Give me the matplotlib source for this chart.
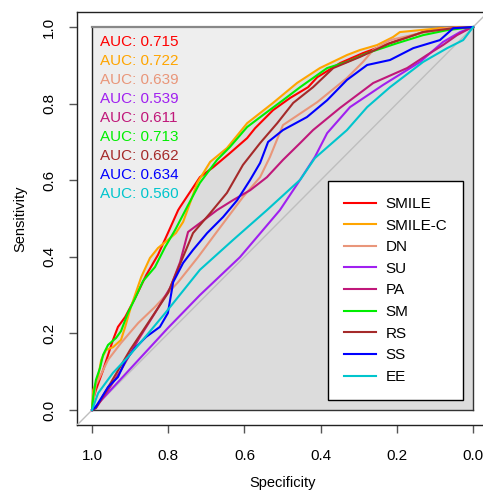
import matplotlib
matplotlib.use("Agg")
import matplotlib.pyplot as plt
import numpy as np

plt.rcParams['font.family'] = ['Liberation Sans', 'DejaVu Sans']

# ROC curves: (specificity, sensitivity)
smile_spec = [1.0, 0.997, 0.990, 0.971, 0.945, 0.932, 0.913, 0.887, 0.858, 0.827, 0.801, 0.774, 0.769, 0.717, 0.682, 0.638, 0.593, 0.572, 0.525, 0.480, 0.433, 0.409, 0.349, 0.289, 0.218, 0.131, 0.087, 0.0]
smile_sens = [0.0, 0.026, 0.052, 0.104, 0.183, 0.217, 0.243, 0.292, 0.352, 0.405, 0.462, 0.522, 0.530, 0.608, 0.634, 0.671, 0.710, 0.736, 0.783, 0.815, 0.843, 0.869, 0.906, 0.932, 0.958, 0.987, 0.997, 1.0]

smilec_spec = [1.0, 0.997, 0.984, 0.976, 0.963, 0.945, 0.924, 0.913, 0.898, 0.871, 0.848, 0.827, 0.795, 0.780, 0.761, 0.740, 0.724, 0.690, 0.646, 0.593, 0.525, 0.462, 0.402, 0.331, 0.297, 0.252, 0.210, 0.192, 0.087, 0.0]
smilec_sens = [0.0, 0.052, 0.086, 0.131, 0.157, 0.164, 0.183, 0.217, 0.269, 0.347, 0.397, 0.423, 0.449, 0.462, 0.491, 0.548, 0.593, 0.648, 0.684, 0.749, 0.802, 0.854, 0.893, 0.927, 0.940, 0.953, 0.974, 0.987, 0.997, 1.0]

dn_spec = [1.0, 0.990, 0.958, 0.924, 0.879, 0.835, 0.774, 0.722, 0.669, 0.604, 0.559, 0.533, 0.499, 0.472, 0.409, 0.331, 0.289, 0.262, 0.218, 0.139, 0.068, 0.0]
dn_sens = [0.0, 0.065, 0.131, 0.175, 0.227, 0.269, 0.334, 0.399, 0.470, 0.556, 0.608, 0.661, 0.744, 0.762, 0.804, 0.867, 0.909, 0.940, 0.966, 0.984, 0.997, 1.0]

su_spec = [1.0, 0.992, 0.801, 0.717, 0.612, 0.507, 0.454, 0.415, 0.383, 0.323, 0.236, 0.139, 0.079, 0.034, 0.0]
su_sens = [0.0, 0.008, 0.214, 0.300, 0.399, 0.522, 0.601, 0.661, 0.723, 0.791, 0.849, 0.909, 0.961, 0.987, 1.0]

pa_spec = [1.0, 0.990, 0.958, 0.924, 0.879, 0.835, 0.795, 0.769, 0.748, 0.717, 0.672, 0.630, 0.585, 0.541, 0.499, 0.454, 0.420, 0.349, 0.262, 0.173, 0.121, 0.079, 0.042, 0.008, 0.0]
pa_sens = [0.0, 0.005, 0.052, 0.104, 0.183, 0.253, 0.319, 0.386, 0.465, 0.488, 0.522, 0.548, 0.574, 0.608, 0.653, 0.697, 0.731, 0.789, 0.854, 0.893, 0.927, 0.953, 0.979, 0.997, 1.0]

sm_spec = [1.0, 0.997, 0.990, 0.979, 0.971, 0.958, 0.937, 0.924, 0.906, 0.887, 0.866, 0.835, 0.808, 0.782, 0.748, 0.717, 0.672, 0.638, 0.593, 0.541, 0.499, 0.454, 0.383, 0.331, 0.278, 0.199, 0.131, 0.068, 0.0]
sm_sens = [0.0, 0.034, 0.078, 0.110, 0.144, 0.170, 0.188, 0.206, 0.253, 0.292, 0.337, 0.373, 0.426, 0.470, 0.535, 0.593, 0.653, 0.687, 0.739, 0.778, 0.809, 0.843, 0.893, 0.909, 0.932, 0.958, 0.979, 0.992, 1.0]

rs_spec = [1.0, 0.990, 0.900, 0.801, 0.735, 0.690, 0.646, 0.604, 0.559, 0.514, 0.472, 0.420, 0.367, 0.297, 0.218, 0.131, 0.052, 0.0]
rs_sens = [0.0, 0.005, 0.157, 0.305, 0.462, 0.514, 0.567, 0.640, 0.697, 0.749, 0.802, 0.843, 0.893, 0.922, 0.958, 0.987, 0.997, 1.0]

ss_spec = [1.0, 0.990, 0.958, 0.932, 0.911, 0.887, 0.858, 0.822, 0.801, 0.787, 0.761, 0.735, 0.698, 0.656, 0.619, 0.585, 0.559, 0.538, 0.499, 0.436, 0.383, 0.331, 0.278, 0.218, 0.157, 0.087, 0.052, 0.0]
ss_sens = [0.0, 0.008, 0.060, 0.086, 0.131, 0.162, 0.191, 0.217, 0.253, 0.334, 0.384, 0.418, 0.462, 0.504, 0.548, 0.601, 0.645, 0.700, 0.731, 0.765, 0.809, 0.862, 0.901, 0.914, 0.945, 0.966, 0.997, 1.0]

ee_spec = [1.0, 0.984, 0.945, 0.906, 0.871, 0.808, 0.717, 0.630, 0.541, 0.454, 0.415, 0.331, 0.278, 0.218, 0.131, 0.068, 0.026, 0.0]
ee_sens = [0.0, 0.044, 0.097, 0.138, 0.178, 0.253, 0.366, 0.444, 0.522, 0.601, 0.658, 0.731, 0.791, 0.843, 0.909, 0.945, 0.966, 1.0]

names = ["SMILE", "SMILE-C", "DN", "SU", "PA", "SM", "RS", "SS", "EE"]
aucs = ["0.715", "0.722", "0.639", "0.539", "0.611", "0.713", "0.662", "0.634", "0.560"]
colors = ["#FF0000", "#FFA500", "#E9967A", "#A020F0", "#C0187A", "#00EE00", "#A52A2A", "#0000FF", "#00C5CD"]
specs = [smile_spec, smilec_spec, dn_spec, su_spec, pa_spec, sm_spec, rs_spec, ss_spec, ee_spec]
senss = [smile_sens, smilec_sens, dn_sens, su_sens, pa_sens, sm_sens, rs_sens, ss_sens, ee_sens]

fig = plt.figure(figsize=(4.83, 4.90), dpi=100)
ax = fig.add_axes([0.159, 0.132, 0.852, 0.844])
ax.set_xlim(1.04, -0.04)
ax.set_ylim(-0.04, 1.04)

# max auc polygon (unit square) and auc polygons
ax.fill([1, 1, 0, 0], [0, 1, 1, 0], color="#EEEEEE", lw=0, zorder=1)
for sp, se in zip(specs, senss):
    ax.fill(list(sp) + [0, 1], list(se) + [0, 0], color="#DCDCDC", lw=0, zorder=2)
ax.plot([1, 1], [0, 1], color="#222222", lw=1, zorder=3)
ax.plot([0, 0], [0, 1], color="#333333", lw=1, zorder=3)
ax.plot([1, 0], [0, 0], color="#333333", lw=1, zorder=3)
ax.plot([1, 0], [1, 1], color="#888888", lw=1.6, zorder=3)

ax.axline((1, 0), (0, 1), color="#BEBEBE", lw=1, zorder=4)

for sp, se, c, n in zip(specs, senss, colors, names):
    ax.plot(sp, se, color=c, lw=1.5, label=n, zorder=5)

for i, (a, c) in enumerate(zip(aucs, colors)):
    ax.text(0.98, 0.961 - i * 0.0496, f"AUC: {a}", color=c, fontsize=11,
            ha="left", va="center", zorder=6)

leg = ax.legend(loc="lower right", bbox_to_anchor=(0.026, 0.026),
                bbox_transform=ax.transData, fontsize=11, frameon=True,
                fancybox=False, edgecolor="black", facecolor="white",
                framealpha=1, handlelength=2.1, handletextpad=0.6,
                labelspacing=0.5, borderpad=1.05, borderaxespad=0)
leg.get_frame().set_linewidth(1)
leg.set_zorder(7)

ticks = [0.0, 0.2, 0.4, 0.6, 0.8, 1.0]
ax.set_xticks(ticks)
ax.set_xticklabels([f"{t:.1f}" for t in ticks])
ax.set_yticks(ticks)
ax.set_yticklabels([f"{t:.1f}" for t in ticks], rotation=90, va="center")
ax.tick_params(axis="both", labelsize=11, length=6, width=1, color="#555555")
ax.tick_params(axis="x", pad=11)
ax.tick_params(axis="y", pad=9)
for s in ax.spines.values():
    s.set_linewidth(1)
    s.set_color("#222222")

ax.set_xlabel("Specificity", fontsize=10.5)
ax.set_ylabel("Sensitivity", fontsize=10.5)
ax.xaxis.set_label_coords(0.5, -0.122)
ax.yaxis.set_label_coords(-0.121, 0.5)

fig.savefig("out.png", dpi=100)
